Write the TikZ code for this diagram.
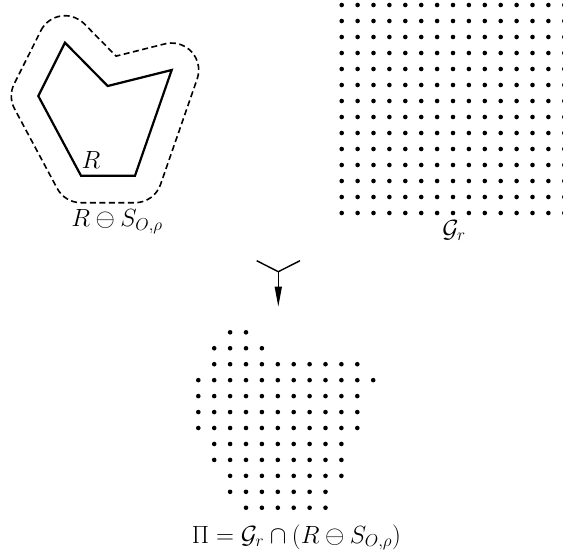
\documentclass[tikz,border=0pt]{standalone}
\usetikzlibrary{arrows.meta,calc}
\begin{document}
\begin{tikzpicture}[x=1pt,y=1pt,
  dotfill/.style={fill=black},
  polyline/.style={line width=2.2pt,line join=miter},
  offsetline/.style={line width=1.6pt,dash pattern=on 6pt off 3.5pt},
  mergeline/.style={line width=1.4pt},
  lbl/.style={anchor=base,inner sep=0pt,font=\fontsize{24.5}{29}\selectfont}]
\useasboundingbox (0,0) rectangle (563,-558);
% polygon R
\coordinate (A) at (65,-42.7);
\coordinate (B) at (107.7,-86);
\coordinate (C) at (171.7,-70);
\coordinate (D) at (135,-175.7);
\coordinate (E) at (81,-175.7);
\coordinate (F) at (38.3,-96);
\draw[polyline] (A) -- (B) -- (C) -- (D) -- (E) -- (F) -- cycle;
\node[lbl] (rlabel) at (91,-168) {$R$};
% offset outline
\draw[offsetline] ($(A)+(153.4:27)$) arc[start angle=153.4,end angle=44.6,radius=27]
  -- ($(B)+(8.4,29.9)$)
  -- ($(C)+(104:27)$) arc[start angle=104,end angle=-19.15,radius=27]
  -- ($(D)+(-19.15:27)$) arc[start angle=-19.15,end angle=-90,radius=27]
  -- ($(E)+(-90:27)$) arc[start angle=-90,end angle=-151.8,radius=27]
  -- ($(F)+(-151.8:27)$) arc[start angle=-151.8,end angle=-206.6,radius=27]
  -- cycle;
\node[lbl] (dlabel) at (117,-226.7) {$R\ominus S_{O,\rho}$};
% grid
\foreach \i in {0,...,14}{
  \foreach \j in {0,...,13}{
    \fill[dotfill] (341.7+15.9*\i,-5-16*\j) circle (2.3);
  }
}
\node[lbl] (glabel) at (454,-237) {$\mathcal{G}_r$};
% merge symbol
\coordinate (ml) at (256.7,-260.7);
\coordinate (mr) at (300,-260.7);
\coordinate (mc) at (278.3,-271.7);
\coordinate (mt) at (278.3,-306.7);
\draw[mergeline] (ml) -- (mc) -- (mr);
\draw[mergeline,-{Triangle[length=20pt,width=7pt]}] (mc) -- (mt);
% intersection dots
\foreach \r/\a/\b in {0/2/3,1/1/4,2/1/10,3/0/11,4/0/10,5/0/10,6/0/10,7/1/9,8/1/9,9/2/9,10/2/8,11/3/8}{
  \foreach \c in {\a,...,\b}{
    \fill[dotfill] (198.3+15.9*\c,-332.3-15.95*\r) circle (2.3);
  }
}
\node[lbl] (plabel) at (296.5,-543) {$\Pi=\mathcal{G}_r\cap(R\ominus S_{O,\rho})$};
\end{tikzpicture}
\end{document}
